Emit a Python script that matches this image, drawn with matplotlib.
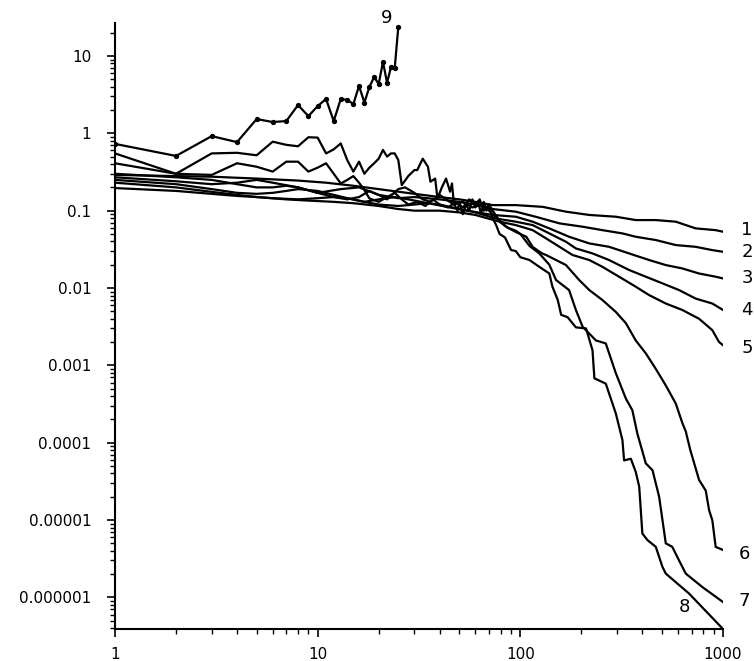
import matplotlib
matplotlib.use("Agg")
import matplotlib.pyplot as plt
from matplotlib.ticker import FixedLocator, LogLocator, NullFormatter

plt.rcParams['font.family'] = ['DejaVu Sans']

# ---- data (x = lag, y = value) ----
x1 = [1, 2, 3, 5, 8, 11, 15, 20, 30, 40, 50, 60, 73, 95, 129, 168, 219, 296, 371, 466, 585, 733, 920, 1000]
y1 = [0.29, 0.28, 0.275, 0.26, 0.245, 0.23, 0.21, 0.19, 0.165, 0.15, 0.14, 0.13, 0.118, 0.118, 0.112, 0.097,
      0.088, 0.0835, 0.0756, 0.0756, 0.072, 0.059, 0.056, 0.0534]

x2 = [1, 2, 3, 4, 5, 6, 8, 10, 13, 16, 20, 25, 30, 40, 50, 60, 73, 95, 119, 156, 203, 254, 319, 371, 466,
      585, 733, 886, 1000]
y2 = [0.27, 0.24, 0.22, 0.23, 0.25, 0.23, 0.20, 0.17, 0.19, 0.20, 0.16, 0.145, 0.15, 0.14, 0.13, 0.12, 0.105,
      0.097, 0.0835, 0.0685, 0.062, 0.056, 0.0508, 0.046, 0.0417, 0.0359, 0.0341, 0.0309, 0.0294]

x3 = [1, 2, 3, 4, 5, 6, 7, 8, 10, 12, 14, 17, 20, 24, 28, 35, 45, 55, 73, 95, 115, 139, 174, 219, 274, 344,
      432, 522, 630, 762, 920, 1000]
y3 = [0.25, 0.22, 0.19, 0.17, 0.165, 0.17, 0.18, 0.19, 0.18, 0.16, 0.145, 0.13, 0.14, 0.15, 0.14, 0.125, 0.11,
      0.10, 0.088, 0.0835, 0.072, 0.059, 0.046, 0.0377, 0.0341, 0.028, 0.023, 0.0198, 0.0179, 0.0154, 0.014,
      0.0133]

x4 = [1, 2, 3, 4, 5, 6, 8, 10, 12, 14, 17, 20, 25, 30, 35, 40, 50, 60, 76, 95, 115, 139, 168, 188, 227, 274,
      344, 416, 502, 607, 733, 886, 1000]
y4 = [0.23, 0.20, 0.175, 0.16, 0.15, 0.145, 0.14, 0.145, 0.15, 0.145, 0.13, 0.12, 0.115, 0.12, 0.125, 0.12,
      0.105, 0.095, 0.079, 0.072, 0.0651, 0.0508, 0.0396, 0.0325, 0.028, 0.023, 0.0171, 0.014, 0.0115, 0.0094,
      0.0073, 0.0063, 0.0052]

x5 = [1, 2, 3, 4, 5, 7, 9, 12, 15, 20, 25, 30, 40, 50, 60, 79, 95, 115, 134, 156, 181, 219, 254, 307, 371,
      432, 522, 630, 762, 886, 955, 1000]
y5 = [0.196, 0.18, 0.165, 0.155, 0.15, 0.14, 0.135, 0.13, 0.125, 0.115, 0.105, 0.10, 0.10, 0.095, 0.088, 0.072,
      0.0651, 0.056, 0.0438, 0.0341, 0.0267, 0.023, 0.0188, 0.014, 0.0104, 0.0081, 0.0063, 0.0052, 0.0040,
      0.00285, 0.00201, 0.00182]

x6 = [1, 2, 3, 4, 5, 6, 7, 8, 10, 12, 14, 16, 18, 20, 22, 25, 27, 30, 33, 36, 40, 43, 47, 52, 58, 65, 73, 85,
      95, 107, 115, 128, 134, 150, 168, 195, 219, 254, 296, 332, 371, 416, 466, 522, 585, 630, 655, 690, 762,
      822, 854, 886, 920, 1000]
y6 = [0.30, 0.27, 0.25, 0.22, 0.20, 0.20, 0.21, 0.20, 0.17, 0.15, 0.14, 0.15, 0.18, 0.16, 0.14, 0.19, 0.20,
      0.17, 0.14, 0.13, 0.16, 0.14, 0.12, 0.13, 0.11, 0.12, 0.09, 0.062, 0.053, 0.046, 0.034, 0.028, 0.0267,
      0.023, 0.0198, 0.0127, 0.0094, 0.0070, 0.0049, 0.0035, 0.0021, 0.00143, 0.0009, 5.5e-4, 3.2e-4, 1.8e-4,
      1.4e-4, 8e-5, 3.3e-5, 2.4e-5, 1.34e-5, 9.9e-6, 4.5e-6, 4.1e-6]

x7 = [1, 2, 3, 4, 5, 6, 7, 8, 9, 10, 11, 12, 13, 14, 15, 16, 17, 18, 20, 22, 24, 26, 28, 31, 34, 37, 40, 44,
      48, 52, 56, 60, 63, 66, 70, 75, 80, 87, 95, 100, 111, 124, 139, 150, 174, 188, 203, 236, 264, 296, 332,
      357, 378, 416, 449, 484, 522, 562, 607, 655, 791, 1000]
y7 = [0.41, 0.30, 0.29, 0.41, 0.37, 0.32, 0.43, 0.43, 0.32, 0.36, 0.41, 0.30, 0.225, 0.25, 0.28, 0.23, 0.185,
      0.144, 0.13, 0.15, 0.17, 0.14, 0.12, 0.13, 0.115, 0.14, 0.12, 0.11, 0.13, 0.11, 0.14, 0.12, 0.14, 0.10,
      0.12, 0.09, 0.07, 0.06, 0.055, 0.05, 0.035, 0.028, 0.02, 0.0127, 0.0094, 0.0052, 0.00315, 0.0021,
      0.00192, 0.00079, 3.7e-4, 2.63e-4, 1.31e-4, 5.4e-5, 4.4e-5, 2.0e-5, 5.0e-6, 4.5e-6, 3.0e-6, 2.03e-6,
      1.36e-6, 8.7e-7]

x8 = [1, 2, 3, 4, 5, 6, 7, 8, 9, 10, 11, 12, 13, 14, 15, 16, 17, 18, 19, 20, 21, 22, 23, 24, 25, 26, 28, 30,
      31, 33, 35, 36, 38, 39, 41, 43, 45, 46, 47, 49, 50, 52, 54, 56, 58, 60, 62, 64, 66, 68, 70, 73, 76, 79,
      84, 90, 95, 100, 111, 124, 139, 144, 153, 159, 171, 188, 211, 227, 232, 264, 296, 319, 325, 351, 371,
      386, 400, 424, 466, 502, 522, 680, 1000]
y8 = [0.55, 0.30, 0.55, 0.56, 0.52, 0.78, 0.71, 0.68, 0.89, 0.88, 0.55, 0.62, 0.74, 0.45, 0.32, 0.43, 0.30,
      0.36, 0.41, 0.47, 0.61, 0.50, 0.55, 0.55, 0.45, 0.214, 0.28, 0.335, 0.335, 0.47, 0.37, 0.237, 0.26,
      0.144, 0.20, 0.26, 0.176, 0.225, 0.124, 0.10, 0.13, 0.09, 0.12, 0.10, 0.14, 0.11, 0.13, 0.09, 0.13, 0.10,
      0.12, 0.08, 0.065, 0.05, 0.045, 0.031, 0.03, 0.025, 0.023, 0.0188, 0.0154, 0.0104, 0.0070, 0.0045,
      0.0042, 0.0031, 0.0030, 0.00157, 0.00068, 0.00058, 2.38e-4, 1.08e-4, 5.9e-5, 6.2e-5, 4.2e-5, 2.7e-5,
      6.7e-6, 5.5e-6, 4.5e-6, 2.5e-6, 2.03e-6, 1.12e-6, 3.9e-7]

x9 = list(range(1, 26))
y9 = [0.73, 0.51, 0.92, 0.77, 1.53, 1.40, 1.44, 2.32, 1.67, 2.25, 2.78, 1.44, 2.78, 2.7, 2.39, 4.1, 2.5,
      3.97, 5.35, 4.34, 8.4, 4.5, 7.2, 7.0, 23.7]

series = [(x1, y1), (x2, y2), (x3, y3), (x4, y4), (x5, y5), (x6, y6), (x7, y7), (x8, y8)]
labels = ["1", "2", "3", "4", "5", "6", "7", "8", "9"]
label_pos = [(1313, 0.056), (1313, 0.029), (1313, 0.0134), (1313, 0.0052), (1313, 0.00167),
             (1269, 3.6e-6), (1269, 9.1e-7), (643, 7.4e-7), (21.9, 31)]

ytick_vals = [1e-6, 1e-5, 1e-4, 1e-3, 1e-2, 1e-1, 1, 10]
ytick_labels = ["0.000001", "0.00001", "0.0001", "0.001", "0.01", "0.1", "1", "10"]
xtick_vals = [1, 10, 100, 1000]
xtick_labels = ["1", "10", "100", "1000"]

fig = plt.figure(figsize=(7.54, 6.61), dpi=100)
ax = fig.add_axes([115 / 754, 1 - 629 / 661, (723 - 115) / 754, (629 - 23) / 661])

for xs, ys in series:
    ax.plot(xs, ys, color="black", lw=1.6, solid_joinstyle="round")
ax.plot(x9, y9, color="black", lw=1.6, marker="o", ms=2.8)

ax.set_xscale("log")
ax.set_yscale("log")
ax.set_xlim(1, 1000)
ax.set_ylim(3.9e-7, 26.7)

for s in ["top", "right"]:
    ax.spines[s].set_visible(False)
for s in ["left", "bottom"]:
    ax.spines[s].set_linewidth(1.5)

ax.yaxis.set_major_locator(FixedLocator(ytick_vals))
ax.set_yticklabels(ytick_labels)
ax.xaxis.set_major_locator(FixedLocator(xtick_vals))
ax.set_xticklabels(xtick_labels)
ax.yaxis.set_minor_locator(LogLocator(base=10, subs=range(2, 10), numticks=20))
ax.xaxis.set_minor_locator(LogLocator(base=10, subs=range(2, 10), numticks=20))
ax.yaxis.set_minor_formatter(NullFormatter())
ax.xaxis.set_minor_formatter(NullFormatter())
ax.tick_params(which="major", direction="out", length=6, width=1.2, labelsize=11, color="black")
ax.tick_params(which="minor", direction="out", length=3.5, width=1.0)
ax.tick_params(axis="y", which="major", pad=11)
ax.tick_params(axis="x", which="major", pad=7)

for lab, (lx, ly) in zip(labels, label_pos):
    ax.text(lx, ly, lab, fontsize=13, ha="center", va="center", clip_on=False)

fig.savefig("out.png", dpi=100)
